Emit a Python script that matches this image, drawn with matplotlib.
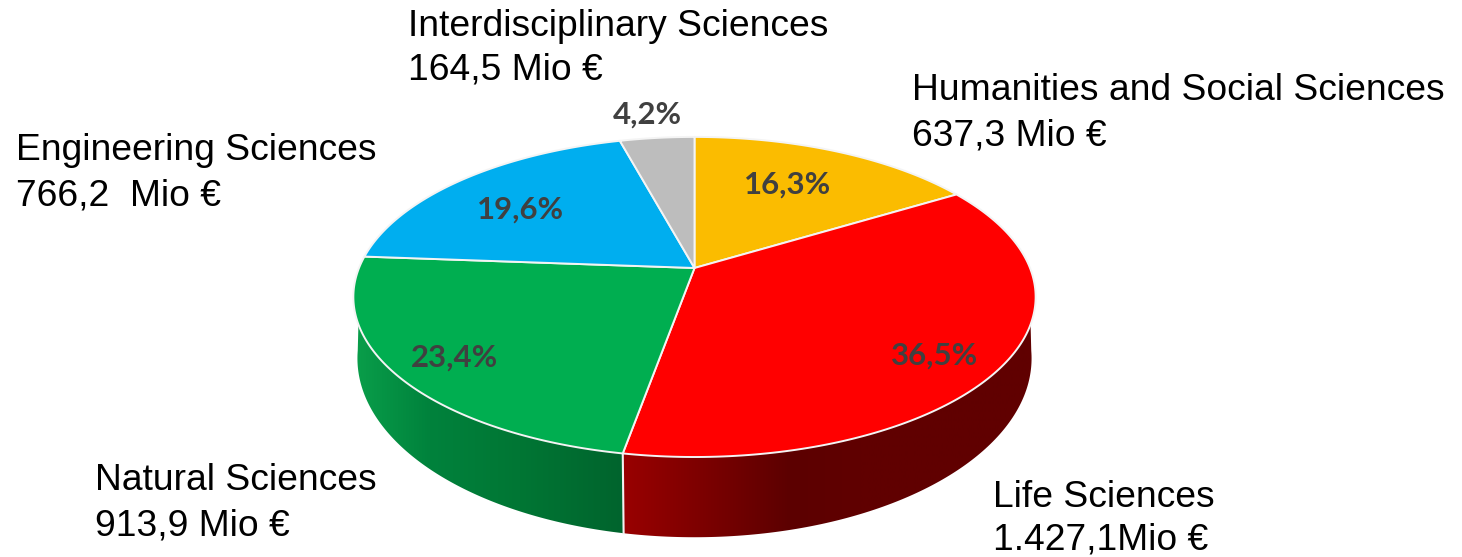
import numpy as np
import matplotlib
matplotlib.use("Agg")
import matplotlib.pyplot as plt
from matplotlib.patches import Polygon

categories = ["Humanities and Social Sciences", "Life Sciences", "Natural Sciences",
              "Engineering Sciences", "Interdisciplinary Sciences"]
amounts = [637.3, 1427.1, 913.9, 766.2, 164.5]
amount_labels = ["637,3 Mio €", "1.427,1Mio €", "913,9 Mio €", "766,2  Mio €", "164,5 Mio €"]
percent_labels = ["16,3%", "36,5%", "23,4%", "19,6%", "4,2%"]
colors = ["#FBBC00", "#FF0000", "#00AE50", "#00AEEF", "#BDBDBD"]

name_pos = [(912, 100), (993, 507), (95, 490), (16, 160), (408, 36)]
amount_pos = [(912, 145), (993, 550), (95, 535), (16, 205), (408, 80)]
pct_pos = [(788, 185), (935, 356), (455, 358), (521, 210), (647, 115)]

W, H = 1462, 557
CX = 694.5
K = 0.181


def rim(theta_deg, cy, a, b):
    t = np.radians(np.asarray(theta_deg, dtype=float))
    x, y = np.sin(t), np.cos(t)
    return CX + a * x / (1 + K * y), cy - b * y / (1 + K * y)


def top(theta):
    return rim(theta, 268, 335.5, 154.8)


def bottom(theta):
    return rim(theta, 326, 331.5, 173.0)


fig = plt.figure(figsize=(W / 100, H / 100), dpi=100, facecolor="white")
ax = fig.add_axes([0, 0, 1, 1])

edges = np.concatenate([[0], np.cumsum(amounts)]) / np.sum(amounts) * 360
split = edges[2]


def wall(t0, t1, b0, b1, xs, stops, zorder=1):
    tt = np.linspace(t0, t1, 120)
    bb = np.linspace(b0, b1, 120)
    tx, ty = top(tt)
    bx, by = bottom(bb)
    pts = np.column_stack([np.r_[tx, bx[::-1]], np.r_[ty, by[::-1]]])
    clip = Polygon(pts, closed=True, transform=ax.transData, fc="none", ec="none")
    ax.add_patch(clip)
    grid = np.linspace(xs[0], xs[-1], 512)
    rgb = np.stack([np.interp(grid, xs, [s[c] for s in stops]) for c in range(3)], axis=-1)[None, :, :]
    im = ax.imshow(rgb / 255, extent=[xs[0], xs[-1], H, 0], aspect="auto",
                   interpolation="bilinear", zorder=zorder)
    im.set_clip_path(clip)


wall(110, split, 98, split, [623, 700, 790, 860, 1040],
     [(153, 0, 0), (125, 0, 0), (92, 0, 0), (96, 0, 0), (96, 0, 0)])
wall(split, 250, split, 262, [350, 430, 520, 623],
     [(10, 160, 75), (0, 130, 60), (0, 118, 52), (0, 100, 45)])

sx0, sy0 = top(split)
sx1, sy1 = bottom(split)
ax.plot([sx0, sx1], [sy0, sy1], color="#F2F2F2", lw=1.5, zorder=2)

for i, c in enumerate(colors):
    tt = np.linspace(edges[i], edges[i + 1], 150)
    rx, ry = top(tt)
    pts = np.column_stack([np.r_[CX, rx], np.r_[268, ry]])
    ax.add_patch(Polygon(pts, closed=True, fc=c, ec="#F4F4F4", lw=1.4, joinstyle="round", zorder=3))

for name, amt, pn, pa in zip(categories, amount_labels, name_pos, amount_pos):
    ax.text(pn[0], pn[1], name, family="Liberation Sans", fontsize=26.8, color="black",
            ha="left", va="baseline", zorder=5)
    ax.text(pa[0], pa[1], amt, family="Liberation Sans", fontsize=26.8, color="black",
            ha="left", va="baseline", zorder=5)

for lab, p in zip(percent_labels, pct_pos):
    ax.text(p[0], p[1], lab, family="Lato", fontweight="bold", fontsize=22.4, color="#404040",
            ha="center", va="center", zorder=5)

ax.set_xlim(0, W)
ax.set_ylim(H, 0)
ax.axis("off")
fig.savefig("out.png", dpi=100)
